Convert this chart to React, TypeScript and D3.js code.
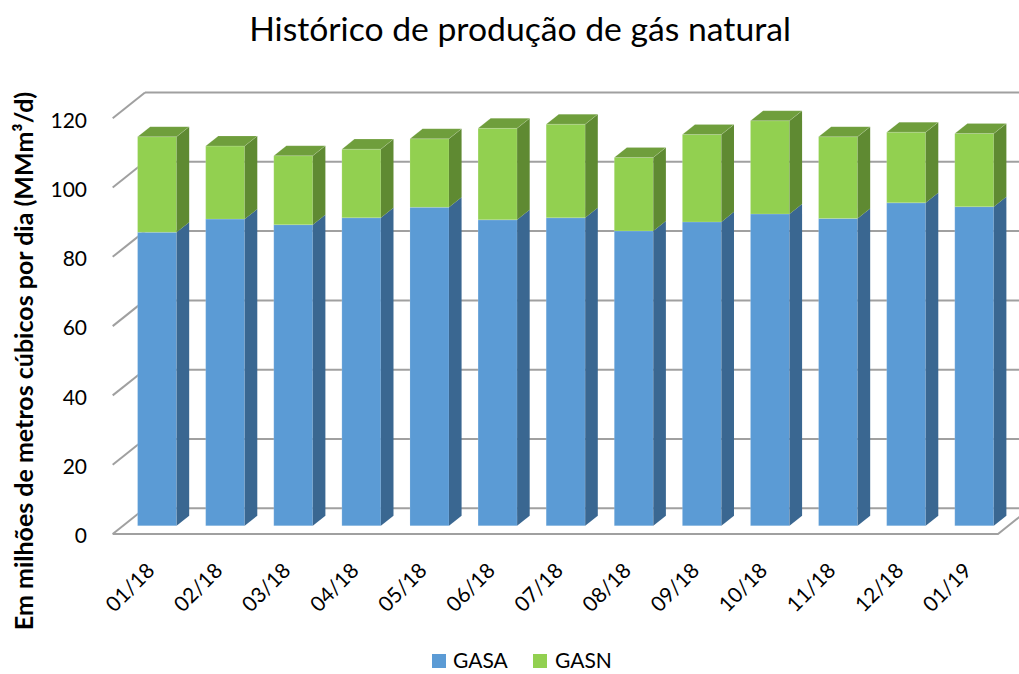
import React from "react";
import * as d3 from "d3";

const categories = ["01/18","02/18","03/18","04/18","05/18","06/18","07/18","08/18","09/18","10/18","11/18","12/18","01/19"];
const gasa = [84.7, 88.5, 86.9, 88.9, 91.9, 88.3, 88.9, 85.1, 87.7, 90.0, 88.7, 93.2, 92.1];
const gasn = [27.6, 21.1, 19.9, 19.8, 19.8, 26.4, 27.0, 21.2, 25.2, 26.9, 23.6, 20.4, 21.1];
const yTicks = [0, 20, 40, 60, 80, 100, 120];

const W = 1019, H = 674;
const FONT = "Lato, 'Open Sans', sans-serif";

export default function App() {
  const x0 = 112.7, x1 = 998;
  const baseY = 534;
  const DX = 32.3, DY = 25.7; // full depth offset
  const yScale = d3.scaleLinear().domain([0, 120]).range([0, 534 - 118.2]);
  const band = d3.scaleBand<string>().domain(categories).range([x0, x1]).paddingInner(0.427).paddingOuter(0.2135);
  const dFront = 0.32, dBack = 0.71;

  const P = (x: number, v: number, d: number): [number, number] => [x + d * DX, baseY - yScale(v) - d * DY];
  const poly = (pts: [number, number][]) => pts.map(p => p.join(",")).join(" ");

  const grid = "#a0a0a0";

  const bars = categories.map((c, i) => {
    const xl = band(c)!;
    const xr = xl + band.bandwidth();
    const segs = [
      { lo: 0, hi: gasa[i], front: "#5b9bd5", side: "#3a6791", top: "#4a82b8" },
      { lo: gasa[i], hi: gasa[i] + gasn[i], front: "#92d050", side: "#5f8a32", top: "#6f9e3c" },
    ];
    return (
      <g key={c}>
        {segs.map((s, j) => (
          <g key={j}>
            <polygon points={poly([P(xl, s.lo, dFront), P(xr, s.lo, dFront), P(xr, s.hi, dFront), P(xl, s.hi, dFront)])} fill={s.front} stroke="rgba(255,255,255,0.25)" strokeWidth={0.6} />
            <polygon points={poly([P(xr, s.lo, dFront), P(xr, s.lo, dBack), P(xr, s.hi, dBack), P(xr, s.hi, dFront)])} fill={s.side} />
            {j === segs.length - 1 && (
              <polygon points={poly([P(xl, s.hi, dFront), P(xr, s.hi, dFront), P(xr, s.hi, dBack), P(xl, s.hi, dBack)])} fill={s.top} stroke="rgba(255,255,255,0.25)" strokeWidth={0.6} />
            )}
          </g>
        ))}
      </g>
    );
  });

  return (
    <div style={{ position: "absolute", left: 0, top: 0 }}>
      <svg width={W} height={H} style={{ display: "block", background: "#fff" }}>
        <text x={520} y={41} textAnchor="middle" fontFamily={FONT} fontSize={33.7} fill="#000">Histórico de produção de gás natural</text>

        {/* back wall gridlines + left wall diagonals */}
        {yTicks.map(t => {
          const a = P(x0, t, 0), b = P(x0, t, 1), e = P(x1, t, 1);
          return (
            <g key={t}>
              <line x1={a[0]} y1={a[1]} x2={b[0]} y2={b[1]} stroke={grid} strokeWidth={2} />
              <line x1={b[0]} y1={b[1]} x2={e[0]} y2={e[1]} stroke={grid} strokeWidth={2} />
            </g>
          );
        })}
        {/* floor front edge */}
        {(() => {
          const a = P(x0, 0, 0), b = P(x1, 0, 0), c = P(x1, 0, 1);
          return <polyline points={poly([a, b, c])} fill="none" stroke={grid} strokeWidth={2} />;
        })()}

        {bars}

        {/* y tick labels */}
        {yTicks.map(t => {
          const a = P(x0, t, 0);
          return (
            <text key={t} x={87} y={a[1] + 2} dy="0.35em" textAnchor="end" fontFamily={FONT} fontSize={21} fill="#000">{t}</text>
          );
        })}

        {/* x labels */}
        {categories.map(c => {
          const cx = band(c)! + band.bandwidth() / 2;
          return (
            <text key={c} transform={`translate(${cx + 9},${572}) rotate(-45)`} textAnchor="end" fontFamily={FONT} fontSize={21} fill="#000">{c}</text>
          );
        })}

        {/* y axis title */}
        <text transform={`translate(33,${361}) rotate(-90)`} textAnchor="middle" fontFamily={FONT} fontSize={25} fontWeight="bold" fill="#000">Em milhões de metros cúbicos por dia (MMm³/d)</text>

        {/* legend */}
        <rect x={432} y={654} width={14} height={14} fill="#5b9bd5" />
        <text x={453} y={668} fontFamily={FONT} fontSize={21} fill="#000">GASA</text>
        <rect x={533} y={654} width={14} height={14} fill="#92d050" />
        <text x={555} y={668} fontFamily={FONT} fontSize={21} fill="#000">GASN</text>
      </svg>
    </div>
  );
}
